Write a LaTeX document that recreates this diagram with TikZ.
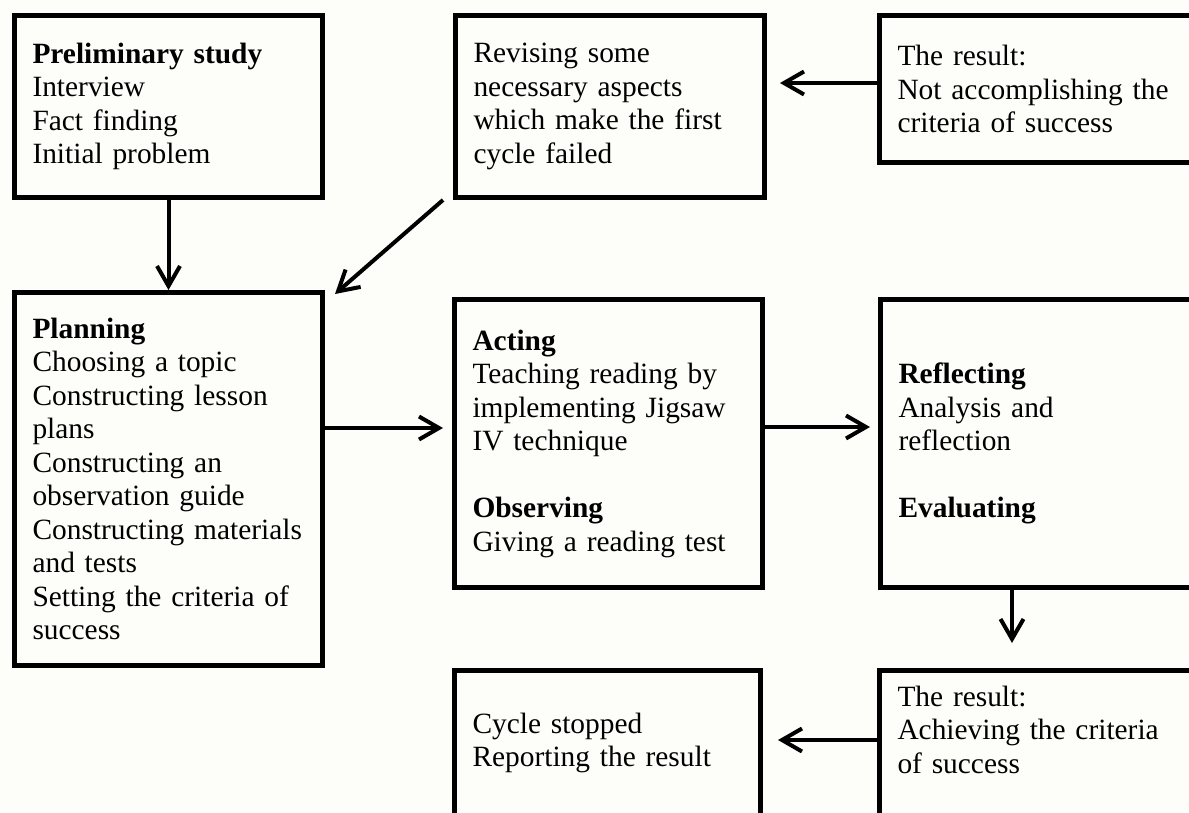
\documentclass[tikz,border=0pt]{standalone}
\usepackage{fontspec}
\setmainfont{Liberation Serif}
\usetikzlibrary{arrows.meta}

\definecolor{paper}{RGB}{253,253,249}

\begin{document}
\begin{tikzpicture}[x=1pt, y=-1pt,
		stage/.style={draw, line width=5pt, anchor=north west, align=left,
			inner xsep=18pt, inner ysep=0pt,
			font=\fontsize{29.4pt}{33.5pt}\selectfont},
		flow/.style={->, line width=4pt},
		>={Straight Barb[length=20pt, width=23pt]}]
		\useasboundingbox (0,0) rectangle (1189,812);
		\clip (0,0) rectangle (1189,812);
		\fill[paper] (0,0) rectangle (1189,812);
		
		\node[stage, text width=272pt, minimum height=182pt] (prelim) at (12,13) {\textbf{Preliminary study}\\Interview\\Fact finding\\Initial problem};
		\node[stage, text width=273pt, minimum height=182pt] (revising) at (453,13) {Revising some\\necessary aspects\\which make the first\\cycle failed};
		\node[stage, text width=287pt, minimum height=147pt] (failres) at (877,13) {The result:\\Not accomplishing the\\criteria of success};
		\node[stage, text width=272pt, minimum height=373pt] (planning) at (12,290) {\textbf{Planning}\\Choosing a topic\\Constructing lesson\\plans\\Constructing an\\observation guide\\Constructing materials\\and tests\\Setting the criteria of\\success};
		\node[stage, text width=272pt, minimum height=288pt] (acting) at (452,297) {\textbf{Acting}\\Teaching reading by\\implementing Jigsaw\\IV technique\\[33.5pt]\textbf{Observing}\\Giving a reading test};
		\node[stage, text width=287pt, minimum height=288pt] (reflecting) at (878,297) {\textbf{Reflecting}\\Analysis and\\reflection\\[33.5pt]\textbf{Evaluating}};
		\node[stage, text width=270pt, minimum height=145pt] (stopped) at (452,668) {Cycle stopped\\Reporting the result};
		\node[stage, text width=287pt, minimum height=145pt] (passres) at (877,668) {The result:\\Achieving the criteria\\of success\\[-7pt]\mbox{}};
		
		\draw[flow] (prelim) -- (planning);
		\draw[flow] ([xshift=-10pt]revising.south west) -- ([xshift=10pt,yshift=-4pt]planning.north east);
		\draw[flow, shorten >=13pt] ([yshift=6pt]failres.west) -- ([yshift=6pt]failres.west -| revising.east);
		\draw[flow, shorten >=9pt] ([yshift=15.5pt]acting.west -| planning.east) -- ([yshift=15.5pt]acting.west);
		\draw[flow, shorten >=8pt] ([yshift=16.5pt]acting.east) -- ([yshift=16.5pt]reflecting.west);
		\draw[flow, shorten >=25pt] ([xshift=-30pt]reflecting.south) -- ([xshift=-30pt]reflecting.south |- passres.north);
		\draw[flow, shorten >=15pt] ([yshift=3pt]passres.west) -- ([yshift=3pt]passres.west -| stopped.east);
		
		\end{tikzpicture}
\end{document}
